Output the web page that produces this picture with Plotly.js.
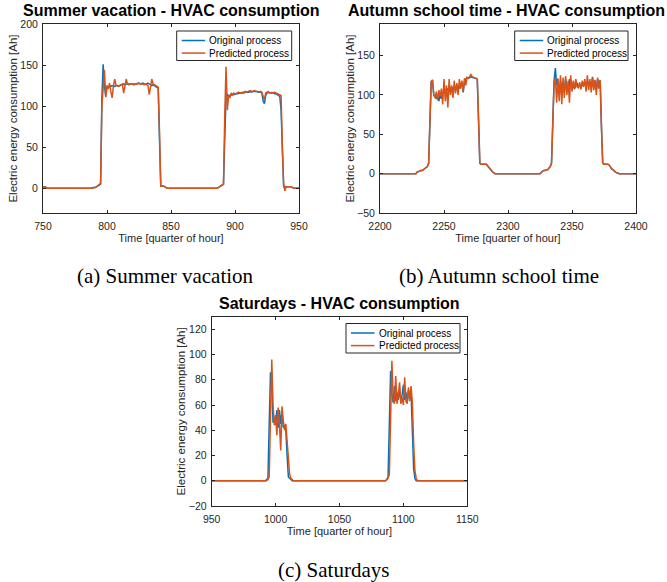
<!DOCTYPE html>
<html><head><meta charset="utf-8">
<script src="https://cdn.plot.ly/plotly-3.0.1.min.js"></script>
<style>html,body{margin:0;padding:0;background:#fff}#chart{width:667px;height:582px}</style>
</head><body><div id="chart"></div>
<script>
// ---------- (a) Summer vacation ----------
const timeA = [750,751,752,753,788,
  789,790,791,792,793,794,795,796,797,798,799,
  800,801,802,803,804,805,806,807,808,809,
  810,811,812,813,814,815,816,817,818,819,
  820,821,822,823,824,825,826,827,828,829,
  830,831,832,833,834,835,836,837,838,839,
  840,841,842,843,844,845,846,847,
  886,887,888,889,890,891,892,893,894,895,896,897,898,899,
  900,901,902,903,904,905,906,907,908,909,
  910,911,912,913,914,915,916,917,918,919,
  920,921,922,923,924,925,926,927,928,929,
  930,931,932,933,934,935,936,937,938,939,
  940,941,942,943,944,945,946,950];
const originalA = [2,2,2,0,0,
  1,1,1,2,3,4,5,110,151,125,112,
  124,123,125,124,125,124,124,125,125,125,
  125,126,126,127,126,127,127,127,127,127,
  127,127,127,127,128,128,127,128,128,127,
  127,127,128,127,126,125,126,125,124,123,
  122,60,3,3,3,2,1,0,
  0,1,1,2,3,5,60,112,115,112,113,114,114,114,
  115,115,115,116,116,116,116,116,117,117,
  117,117,118,117,118,118,118,118,117,117,
  117,116,106,103,113,116,117,116,116,116,
  116,115,115,114,113,112,95,30,2,2,
  2,2,2,2,2,1,0,0];
const predictedA = [2,2,1,0,0,
  1,1,1,2,3,4,6,100,120,144,111,
  125,121,128,118,110,124,133,126,125,124,
  125,126,127,116,126,133,127,126,127,127,
  127,126,127,127,127,128,127,127,127,126,
  127,126,125,114,126,133,127,126,125,124,
  123,70,3,3,3,2,1,0,
  0,1,1,2,3,5,90,148,95,113,110,116,114,116,
  115,116,116,117,116,117,117,117,118,117,
  118,118,119,118,118,119,118,118,118,117,
  118,117,112,108,116,117,118,116,117,117,
  116,117,116,115,114,114,113,50,5,-3,
  2,2,2,2,2,1,0,0];

// ---------- (b) Autumn school time ----------
const timeB = [2200,
  2228,2229,2230,2231,2232,2233,2234,2235,2236,2237,
  2238,2239,2240,2241,2242,2243,2244,2245,2246,2247,
  2248,2249,2250,2251,2252,2253,2254,2255,2256,2257,
  2258,2259,2260,2261,2262,2263,2264,2265,2266,2267,
  2268,2269,2270,2271,2272,2273,2274,2275,2276,2277,
  2278,2279,2280,2281,2282,2283,2284,2285,2286,2287,
  2288,2289,2290,
  2325,2326,2327,2328,2329,2330,2331,2332,2333,2334,
  2335,2336,2337,2338,2339,2340,2341,2342,2343,2344,
  2345,2346,2347,2348,2349,2350,2351,2352,2353,2354,
  2355,2356,2357,2358,2359,2360,2361,2362,2363,2364,
  2365,2366,2367,2368,2369,2370,2371,2372,2373,2374,
  2375,2376,2377,2378,2379,2380,2381,2382,2383,2384,
  2385,2386,2387,
  2400];
const originalB = [0,
  0,2,3,3,4,4,5,6,7,9,
  13,60,117,118,100,98,95,100,92,100,
  95,102,105,102,108,106,110,108,106,109,
  110,108,112,110,108,113,115,103,117,120,
  122,121,122,123,122,122,121,121,120,70,
  13,12,12,12,12,12,10,8,5,3,
  2,1,0,
  0,2,3,4,4,5,5,7,9,13,
  60,118,134,112,120,100,118,108,116,105,
  120,110,106,120,108,115,110,108,112,115,
  110,112,110,114,112,116,110,118,112,115,
  108,123,110,118,106,120,115,118,60,13,
  12,12,12,12,11,8,6,5,3,2,
  1,0,0,
  0];
const predictedB = [0,
  0,2,3,3,4,4,5,6,7,9,
  13,60,117,119,100,96,104,93,106,98,
  108,88,120,92,112,84,120,100,112,96,
  118,102,115,100,120,108,118,104,121,112,
  122,121,124,126,123,122,121,121,120,70,
  13,12,12,12,12,12,10,8,5,3,
  2,1,0,
  0,2,3,4,4,5,5,7,9,13,
  60,115,122,90,121,92,125,88,122,96,
  124,100,118,90,125,104,118,108,120,110,
  109,116,107,118,110,120,104,125,106,120,
  103,121,106,119,100,122,108,119,60,13,
  12,12,12,12,11,8,6,5,3,2,
  1,0,0,
  0];

// ---------- (c) Saturdays ----------
const timeC = [950,
  990,991,992,993,994,995,996,997,998,999,
  1000,1001,1002,1003,1004,1005,1006,1007,1008,1009,
  1010,1011,1012,1013,1014,1015,
  1084,1085,1086,1087,1088,1089,1090,1091,1092,1093,
  1094,1095,1096,1097,1098,1099,1100,1101,1102,1103,
  1104,1105,1106,1107,1108,1109,1110,1111,1112,
  1150];
const originalC = [0,
  0,0,0,1,2,45,86,75,46,50,
  44,56,42,56,45,55,42,44,40,20,
  3,2,1,0,0,0,
  0,0,0,1,3,45,87,68,62,75,
  63,70,64,73,63,68,76,64,70,62,
  72,65,70,40,10,2,0,0,0,
  0];
const predictedC = [0,
  0,0,0,0,1,3,50,96,60,44,
  52,36,58,45,24,59,48,40,45,30,
  15,5,2,1,0,0,
  0,0,0,1,2,5,60,95,64,61,
  83,61,68,78,61,66,60,82,63,61,
  74,63,75,62,30,8,2,0,0,
  0];

const seriesNames = ['Original process', 'Predicted process'];
const panelTitles = ['Summer vacation - HVAC consumption', 'Autumn school time - HVAC consumption', 'Saturdays - HVAC consumption'];
const captions = ['(a) Summer vacation', '(b) Autumn school time', '(c) Saturdays'];
const xTitle = 'Time [quarter of hour]';
const yTitle = 'Electric energy consumption [Ah]';

const BLUE = '#0072BD', ORANGE = '#D95319', INK = '#262626';
const COLORS = [BLUE, ORANGE];
const W = 667, H = 582;
const px = v => v / W, py = v => 1 - v / H;
const SANS = 'Liberation Sans, Arial, sans-serif';

function tr(x, y, i, k) {
  return {x: x, y: y, type: 'scatter', mode: 'lines', name: seriesNames[i],
    xaxis: 'x' + (k > 1 ? k : ''), yaxis: 'y' + (k > 1 ? k : ''), showlegend: false,
    line: {color: COLORS[i], width: 1.5}, hoverinfo: 'skip'};
}
const data = [
  tr(timeA, originalA, 0, 1), tr(timeA, predictedA, 1, 1),
  tr(timeB, originalB, 0, 2), tr(timeB, predictedB, 1, 2),
  tr(timeC, originalC, 0, 3), tr(timeC, predictedC, 1, 3)
];

const tickFont = {family: SANS, size: 10.5, color: INK};
function xax(dom, range, anchor) {
  return {domain: dom, range: range, dtick: 50, tick0: 0, anchor: anchor,
    ticks: 'inside', ticklen: 3, tickwidth: 1, tickcolor: INK, mirror: 'ticks',
    showline: true, linecolor: INK, linewidth: 1, showgrid: false, zeroline: false,
    tickfont: tickFont, ticklabelstandoff: 3,
    title: {text: xTitle, font: {family: SANS, size: 11, color: INK}, standoff: 2}};
}
function yax(dom, range, dtick, anchor) {
  return {domain: dom, range: range, dtick: dtick, tick0: 0, anchor: anchor,
    ticks: 'inside', ticklen: 3, tickwidth: 1, tickcolor: INK, mirror: 'ticks',
    showline: true, linecolor: INK, linewidth: 1, showgrid: false, zeroline: false,
    tickfont: tickFont, ticklabelstandoff: 2,
    title: {text: yTitle, font: {family: SANS, size: 11.5, color: INK}, standoff: 0}};
}
const titleFont = {family: SANS, size: 16, color: '#000'};
const capFont = {family: 'Liberation Serif, Times New Roman, serif', size: 21, color: '#000'};
function ann(text, x, y, font, anchor) {
  return {text: text, x: px(x), y: py(y), xref: 'paper', yref: 'paper', xanchor: anchor || 'center', yanchor: 'middle', showarrow: false, font: font};
}

// compact legend boxes (left, top, right, bottom in page pixels)
const legendBoxes = [[176.7, 31, 291.7, 60.5], [514.7, 31, 628, 60.5], [346, 323.5, 460, 353]];
const shapes = [], annotations = [];
legendBoxes.forEach(b => {
  shapes.push({type: 'rect', xref: 'paper', yref: 'paper', layer: 'above',
    x0: px(b[0]), x1: px(b[2]), y0: py(b[3]), y1: py(b[1]),
    line: {color: INK, width: 1}, fillcolor: '#ffffff'});
  seriesNames.forEach((name, i) => {
    const yy = b[1] + 9.5 + i * 12.6;
    shapes.push({type: 'line', xref: 'paper', yref: 'paper', layer: 'above',
      x0: px(b[0] + 5), x1: px(b[0] + 28.5), y0: py(yy), y1: py(yy),
      line: {color: COLORS[i], width: 1.5}});
    annotations.push(ann(name, b[0] + 30.5, yy, {family: SANS, size: 10, color: '#000'}, 'left'));
  });
});
annotations.push(
  ann('<b>' + panelTitles[0] + '</b>', 171, 10.8, titleFont),
  ann('<b>' + panelTitles[1] + '</b>', 507, 10.8, titleFont),
  ann('<b>' + panelTitles[2] + '</b>', 339, 303.5, titleFont),
  ann(captions[0], 165, 276, capFont),
  ann(captions[1], 499, 276, capFont),
  ann(captions[2], 333.5, 570, capFont)
);

const domYTop = [py(213), py(24)];
const layout = {
  width: W, height: H, margin: {l: 0, r: 0, t: 0, b: 0},
  paper_bgcolor: '#fff', plot_bgcolor: '#fff', showlegend: false,
  xaxis: xax([px(43), px(299)], [750, 950], 'y'),
  yaxis: yax(domYTop, [-30, 200], 50, 'x'),
  xaxis2: xax([px(380), px(636)], [2200, 2400], 'y2'),
  yaxis2: yax(domYTop, [-50, 190], 50, 'x2'),
  xaxis3: xax([px(211.7), px(467.3)], [950, 1150], 'y3'),
  yaxis3: yax([py(506), py(316.7)], [-20, 130], 20, 'x3'),
  shapes: shapes,
  annotations: annotations
};
Plotly.newPlot('chart', data, layout, {staticPlot: true, displayModeBar: false});
</script></body></html>
